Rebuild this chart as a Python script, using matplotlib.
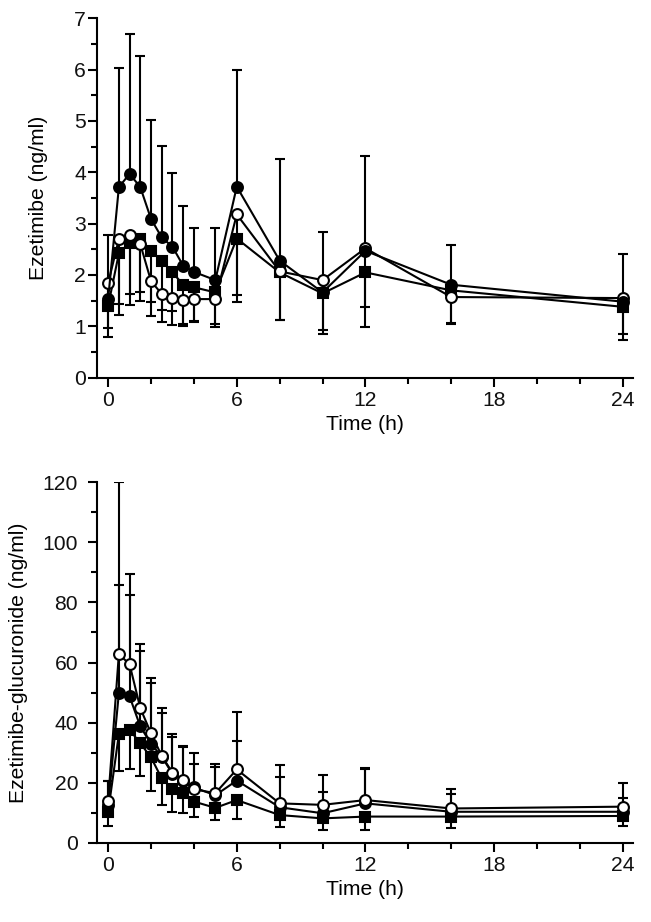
import matplotlib
matplotlib.use("Agg")
import matplotlib.pyplot as plt
import numpy as np
from matplotlib.ticker import MultipleLocator

plt.rcParams['font.family'] = ['Liberation Sans', 'DejaVu Sans']

time_h = [0, 0.5, 1, 1.5, 2, 2.5, 3, 3.5, 4, 5, 6, 8, 10, 12, 16, 24]

# Top panel: Ezetimibe (ng/ml)
eze_filled = [1.53, 3.71, 3.97, 3.71, 3.09, 2.73, 2.55, 2.18, 2.06, 1.90, 3.72, 2.28, 1.66, 2.47, 1.81, 1.48]
eze_open = [1.84, 2.70, 2.78, 2.60, 1.88, 1.63, 1.56, 1.51, 1.53, 1.53, 3.18, 2.07, 1.90, 2.52, 1.57, 1.55]
eze_square = [1.40, 2.42, 2.63, 2.70, 2.47, 2.27, 2.05, 1.81, 1.76, 1.66, 2.71, 2.05, 1.64, 2.05, 1.70, 1.38]
eze_filled_upper = [2.77, 6.03, 6.69, 6.27, 5.01, 4.52, 3.98, 3.34, 2.91, 2.92, 5.99, 4.25, 2.84, 4.31, 2.58, 2.41]
eze_open_lower = [0.96, 1.23, 1.41, 1.66, 1.21, 1.08, 1.03, 1.01, 1.09, 0.98, 1.61, 1.12, 0.93, 1.38, 1.05, 0.85]
eze_square_lower = [0.79, 1.44, 1.63, 1.50, 1.48, 1.31, 1.29, 1.05, 1.10, 1.05, 1.47, 1.13, 0.85, 0.99, 1.07, 0.73]

# Bottom panel: Ezetimibe-glucuronide (ng/ml)
glu_open = [14.0, 62.8, 59.4, 44.8, 36.4, 28.9, 23.3, 20.9, 17.8, 16.5, 24.4, 13.1, 12.6, 14.2, 11.4, 12.0]
glu_filled = [12.5, 49.8, 48.7, 38.7, 32.9, 28.7, 22.9, 20.6, 18.4, 15.8, 20.7, 11.8, 9.8, 13.1, 10.3, 10.3]
glu_square = [10.3, 36.1, 37.6, 33.1, 28.4, 21.4, 17.8, 16.4, 13.7, 11.6, 14.2, 9.2, 8.1, 8.7, 8.7, 8.9]
glu_open_upper = [20.6, 120.1, 89.6, 66.2, 54.8, 44.8, 36.1, 32.2, 29.8, 26.2, 43.4, 25.9, 22.6, 24.8, 17.9, 20.0]
glu_filled_upper = [20.4, 85.9, 82.6, 63.7, 53.1, 43.3, 35.3, 32.0, 26.2, 25.3, 33.9, 21.8, 17.0, 24.6, 16.2, 14.8]
glu_square_lower = [5.5, 23.8, 24.4, 22.2, 17.3, 12.4, 10.3, 9.8, 8.4, 7.5, 7.9, 5.3, 4.1, 4.2, 4.8, 5.6]

x_ticks = [0, 6, 12, 18, 24]

fig = plt.figure(figsize=(6.51, 9.22), dpi=100)
ax1 = fig.add_axes([0.149, 0.5904, 0.8233, 0.3898])
ax2 = fig.add_axes([0.149, 0.0860, 0.8233, 0.3909])

FS = 15.2
LW = 1.5
common_err = dict(fmt='none', ecolor='black', elinewidth=LW, capsize=3.5, capthick=LW, zorder=2)


def err_up(mean, end):
    m = np.array(mean); e = np.array(end)
    return [np.zeros_like(m), e - m]


def err_down(mean, end):
    m = np.array(mean); e = np.array(end)
    return [m - e, np.zeros_like(m)]


def draw_series(ax, y, marker, face, ms):
    ax.plot(time_h, y, color='black', lw=LW, marker=marker, markersize=ms,
            markerfacecolor=face, markeredgecolor='black', markeredgewidth=1.5, zorder=3)


# Top panel
ax1.errorbar(time_h, eze_filled, yerr=err_up(eze_filled, eze_filled_upper), **common_err)
ax1.errorbar(time_h, eze_open, yerr=err_down(eze_open, eze_open_lower), **common_err)
ax1.errorbar(time_h, eze_square, yerr=err_down(eze_square, eze_square_lower), **common_err)
draw_series(ax1, eze_square, 's', 'black', 6.8)
draw_series(ax1, eze_open, 'o', 'white', 7.8)
draw_series(ax1, eze_filled, 'o', 'black', 7.8)
ax1.set_ylim(0, 7)
ax1.yaxis.set_major_locator(MultipleLocator(1))
ax1.yaxis.set_minor_locator(MultipleLocator(0.5))
ax1.set_ylabel('Ezetimibe (ng/ml)', fontsize=FS)

# Bottom panel
ax2.errorbar(time_h, glu_open, yerr=err_up(glu_open, glu_open_upper), **common_err)
ax2.errorbar(time_h, glu_filled, yerr=err_up(glu_filled, glu_filled_upper), **common_err)
ax2.errorbar(time_h, glu_square, yerr=err_down(glu_square, glu_square_lower), **common_err)
draw_series(ax2, glu_square, 's', 'black', 6.8)
draw_series(ax2, glu_filled, 'o', 'black', 7.8)
draw_series(ax2, glu_open, 'o', 'white', 7.8)
ax2.set_ylim(0, 120)
ax2.yaxis.set_major_locator(MultipleLocator(20))
ax2.yaxis.set_minor_locator(MultipleLocator(10))
ax2.set_ylabel('Ezetimibe-glucuronide (ng/ml)', fontsize=FS)

for ax in (ax1, ax2):
    ax.set_xlim(-0.52, 24.48)
    ax.set_xticks(x_ticks)
    ax.xaxis.set_minor_locator(MultipleLocator(2))
    ax.set_xlabel('Time (h)', fontsize=FS, labelpad=4)
    for s in ('top', 'right'):
        ax.spines[s].set_visible(False)
    for s in ('left', 'bottom'):
        ax.spines[s].set_linewidth(LW)
    ax.tick_params(which='major', direction='out', length=6.5, width=LW, labelsize=FS, pad=3, color='black')
    ax.tick_params(which='minor', direction='out', length=4, width=LW, color='black')
    for lab in ax.get_xticklabels() + ax.get_yticklabels():
        lab.set_color('#111111')

ax1.tick_params(axis='y', which='major', pad=1.5)
ax2.tick_params(axis='y', which='major', pad=7)
ax1.yaxis.set_label_coords(-0.091, 0.5)
ax2.yaxis.set_label_coords(-0.129, 0.5)

fig.savefig('out.png', dpi=100, facecolor='white')
